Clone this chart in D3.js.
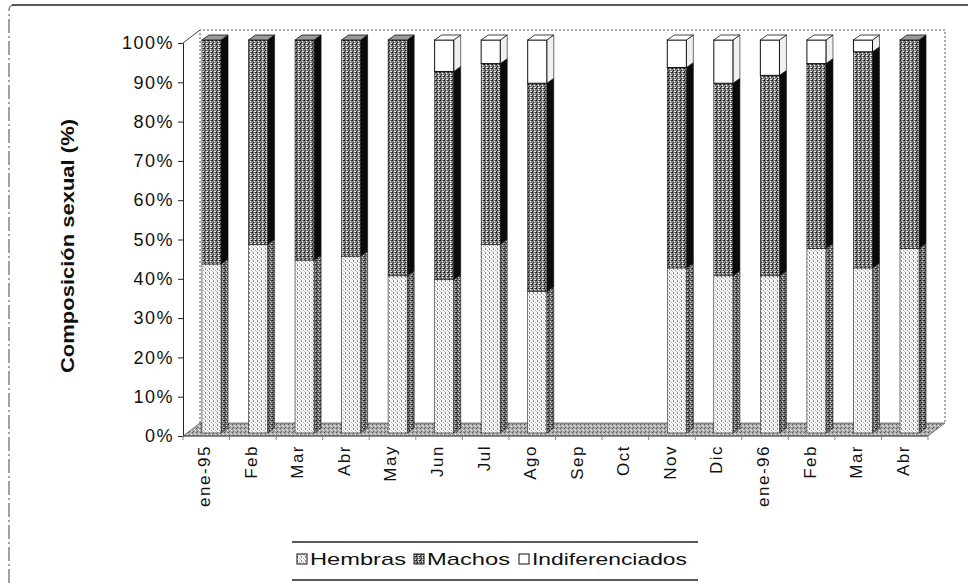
<!DOCTYPE html>
<html><head><meta charset="utf-8">
<script src="https://cdn.jsdelivr.net/npm/d3@7"></script>
<style>body{margin:0;background:#fff}svg{display:block}</style>
</head><body>
<svg id="c" width="968" height="583"></svg>
<script>
const categories = ["ene-95","Feb","Mar","Abr","May","Jun","Jul","Ago","Sep","Oct","Nov","Dic","ene-96","Feb","Mar","Abr"];
const hembras = [43,48,44,45,40,39,48,36,0,0,42,40,40,47,42,47];
const machos  = [57,52,56,55,60,53,46,53,0,0,51,49,51,47,55,53];
const indif   = [0,0,0,0,0,8,6,11,0,0,7,11,9,6,3,0];
const seriesNames = ["Hembras","Machos","Indiferenciados"];
const yTicks = [0,10,20,30,40,50,60,70,80,90,100];
const yTitle = "Composición sexual (%)";

const svg = d3.select("#c");
const font = "'Liberation Sans', Arial, sans-serif";
const defs = svg.append("defs");
function pattern(id, bg, dots){
  const p = defs.append("pattern").attr("id",id).attr("patternUnits","userSpaceOnUse")
    .attr("width",4).attr("height",4);
  p.append("rect").attr("width",4).attr("height",4).attr("fill",bg);
  dots.forEach(d=>p.append("rect").attr("x",d[0]).attr("y",d[1]).attr("width",d[2]||1).attr("height",d[3]||1).attr("fill",d[4]));
}
pattern("pHf","#f6f6f6",[[1,0,1,2,"#8a8a8a"],[3,2,1,1,"#aaa"],[0,3,1,1,"#c4c4c4"]]);
pattern("pHs","#707070",[[0,0,1,1,"#111"],[2,1,1,1,"#ddd"],[1,2,1,1,"#222"],[3,3,1,1,"#ccc"],[3,0,1,1,"#333"]]);
pattern("pMf","#808080",[[0,0,1,1,"#111"],[2,1,1,1,"#fff"],[1,2,1,1,"#222"],[3,3,1,1,"#eee"],[3,0,1,1,"#333"],[0,3,1,1,"#444"],[2,3,1,1,"#ddd"]]);
pattern("pFl","#a9a9a9",[[0,0,1,1,"#555"],[2,1,1,1,"#ddd"],[1,3,1,1,"#666"],[3,2,1,1,"#eee"]]);

// frame of the chart area (scanned border)
svg.append("line").attr("x1",12).attr("x2",968).attr("y1",5).attr("y2",5).attr("stroke","#222").attr("stroke-width",1.5);
svg.append("path").attr("d","M9,583 L9,10 Q9,5 14,5").attr("fill","none").attr("stroke","#444").attr("stroke-width",1).attr("stroke-dasharray","14,3,2,3");

const x0 = 183, x1 = 928;
const depth = {dx:17, dy:-13};
const x = d3.scaleBand().domain(d3.range(categories.length)).range([x0,x1]).paddingInner(0.59).paddingOuter(0.3);
const xc = d3.scaleBand().domain(d3.range(categories.length)).range([x0,x1]);
const y = d3.scaleLinear().domain([0,100]).range([436,43]);

// back & side walls
const wall = svg.append("g").attr("fill","none").attr("stroke","#555").attr("stroke-width",1).attr("stroke-dasharray","2,2");
wall.append("path").attr("d",`M${x0+depth.dx},${y(0)+depth.dy} V${y(100)+depth.dy} H${x1+depth.dx} V${y(0)+depth.dy}`);
svg.append("line").attr("x1",x0).attr("y1",y(100)).attr("x2",x0+depth.dx).attr("y2",y(100)+depth.dy).attr("stroke","#444");

// floor
svg.append("path")
  .attr("d",`M${x0},${y(0)} L${x1},${y(0)} L${x1+depth.dx},${y(0)+depth.dy} L${x0+depth.dx},${y(0)+depth.dy} Z`)
  .attr("fill","url(#pFl)").attr("stroke","#666").attr("stroke-width",0.8);

// y axis
const yAxis = svg.append("g").attr("transform",`translate(${x0},0)`)
  .call(d3.axisLeft(y).tickValues(yTicks).tickFormat(d=>d+"%").tickSize(5).tickPadding(4));
yAxis.select(".domain").attr("stroke","#222");
yAxis.selectAll(".tick line").attr("stroke","#222");
yAxis.selectAll("text").attr("font-family",font).attr("font-size",18).attr("letter-spacing","1.5px").attr("fill","#111");

// x axis tick marks & labels
const xg = svg.append("g");
xg.append("line").attr("x1",x0).attr("x2",x1).attr("y1",y(0)).attr("y2",y(0)).attr("stroke","#555");
xg.selectAll("line.t").data(d3.range(categories.length+1)).join("line").attr("class","t")
  .attr("x1",i=>x0+i*xc.step()).attr("x2",i=>x0+i*xc.step()).attr("y1",y(0)).attr("y2",y(0)+4).attr("stroke","#888");
xg.selectAll("text").data(categories).join("text")
  .attr("transform",(d,i)=>`translate(${xc(i)+xc.bandwidth()/2-2},${y(0)+9}) rotate(-90)`)
  .attr("text-anchor","end").attr("dy","0.35em")
  .attr("font-family",font).attr("font-size",17).attr("letter-spacing","1.5px").attr("fill","#111")
  .text(d=>d);

// bars
const off = {dx:5, dy:-3}, side = {dx:7, dy:-5};
const stackData = categories.map((c,i)=>({i, Hembras:hembras[i], Machos:machos[i], Indiferenciados:indif[i]}));
const stacked = d3.stack().keys(seriesNames)(stackData);
const styles = {
  Hembras:{front:"url(#pHf)", side:"url(#pHs)", top:"#e8e8e8", stroke:"#222"},
  Machos:{front:"url(#pMf)", side:"#0a0a0a", top:"#9a9a9a", stroke:"#111"},
  Indiferenciados:{front:"#ffffff", side:"#f0f0f0", top:"#ffffff", stroke:"#111"}
};
const bars = svg.append("g");
stackData.forEach((d,i)=>{
  const total = hembras[i]+machos[i]+indif[i];
  if(total===0) return;
  const bx = x(i)+off.dx, bw = x.bandwidth();
  let topSeries = null;
  stacked.forEach(s=>{
    const seg = s[i];
    if(seg[1]-seg[0] <= 0) return;
    topSeries = s.key;
    const st = styles[s.key];
    const yt = y(seg[1])+off.dy, yb = y(seg[0])+off.dy;
    bars.append("path")
      .attr("d",`M${bx+bw},${yb} L${bx+bw+side.dx},${yb+side.dy} L${bx+bw+side.dx},${yt+side.dy} L${bx+bw},${yt} Z`)
      .attr("fill",st.side).attr("stroke",st.stroke).attr("stroke-width",0.6);
    bars.append("rect").attr("x",bx).attr("y",yt).attr("width",bw).attr("height",yb-yt)
      .attr("fill",st.front).attr("stroke",st.stroke).attr("stroke-width",s.key==="Indiferenciados"?1:0.6);
  });
  const seg = stacked.find(s=>s.key===topSeries)[i];
  const yt = y(seg[1])+off.dy;
  bars.append("path")
    .attr("d",`M${bx},${yt} L${bx+side.dx},${yt+side.dy} L${bx+bw+side.dx},${yt+side.dy} L${bx+bw},${yt} Z`)
    .attr("fill",styles[topSeries].top).attr("stroke","#111").attr("stroke-width",0.8);
});

// y title
svg.append("text").attr("transform","translate(74,246) rotate(-90)").attr("text-anchor","middle")
  .attr("font-family",font).attr("font-size",19).attr("font-weight","bold").attr("fill","#111")
  .attr("textLength",254).attr("lengthAdjust","spacingAndGlyphs").text(yTitle);

// legend
const lg = svg.append("g");
lg.append("line").attr("x1",292).attr("x2",698).attr("y1",542).attr("y2",542).attr("stroke","#222").attr("stroke-width",1.3);
lg.append("line").attr("x1",292).attr("x2",698).attr("y1",580).attr("y2",580).attr("stroke","#222").attr("stroke-width",1.3);
const legX = [297,414,519], legLen = [96,83,155];
const legFill = ["url(#pHf)","url(#pMf)","#fff"];
seriesNames.forEach((n,k)=>{
  lg.append("rect").attr("x",legX[k]).attr("y",554).attr("width",10).attr("height",10)
    .attr("fill",legFill[k]).attr("stroke","#111").attr("stroke-width",1);
  lg.append("text").attr("x",legX[k]+13).attr("y",565).attr("font-family",font).attr("font-size",17)
    .attr("fill","#111").attr("textLength",legLen[k]).attr("lengthAdjust","spacingAndGlyphs").text(n);
});
</script>
</body></html>
